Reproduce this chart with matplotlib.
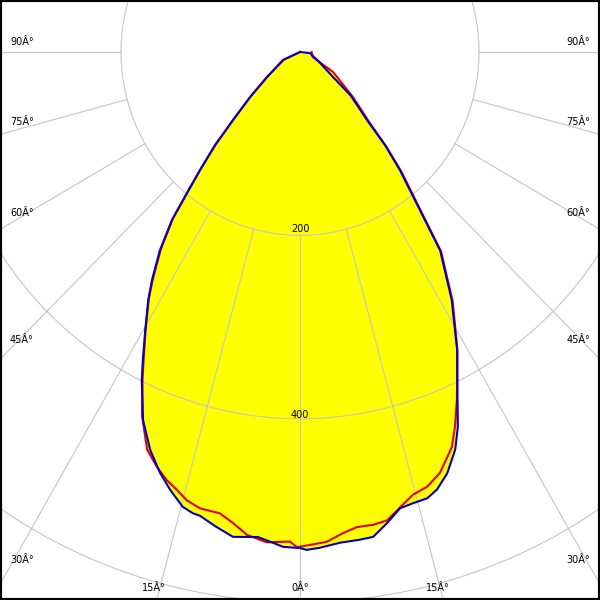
import numpy as np
import matplotlib
matplotlib.use("Agg")
import matplotlib.pyplot as plt
from matplotlib.patches import Rectangle

# ---- data (angle from nadir in degrees, left side negative; intensity) ----
blue_deg = [-90, -65.4, -53.5, -48.7, -45.3, -43.1, -41.0, -39.4, -38.0, -35.9, -33.6, -32.1,
            -29.7, -27.6, -26.3, -24.9, -23.6, -21.1, -18.8, -16.9, -14.8, -13.4, -12.45,
            -10.3, -8.06, -5.07, -3.59, -2.0, 0.0,
            0.8, 2.4, 4.8, 7.2, 8.8, 10.7, 12.66, 14.4, 16.3, 17.8, 19.7, 21.8, 23.35,
            24.9, 28.4, 32.1, 35.9, 38.5, 40.95, 43.1, 45.3, 50.0, 53.5, 65.0, 84.0, 90]
blue_cd = [0, 21, 46, 74, 105, 139, 170, 199, 232, 267, 299, 319,
           349, 379, 399, 418, 438, 465, 485, 499, 513, 517, 518,
           526, 534, 531, 535, 540, 541,
           543, 541, 537, 536, 535, 523, 510, 508, 507, 501, 488, 467, 445,
           418, 369, 319, 267, 206, 170, 139, 105, 74, 46, 22, 11, 0]

red_deg = [-90, -65.0, -53.5, -48.7, -45.3, -43.0, -41.0, -39.4, -38.0, -35.9, -33.6, -32.1,
           -29.7, -27.6, -26.3, -24.0, -21.5, -19.45, -17.7, -16.05, -14.5, -12.66, -10.1,
           -8.3, -6.4, -3.95, -1.2, -0.36,
           0.35, 3.2, 5.2, 7.0, 9.0, 10.8, 12.7, 14.65, 16.65, 18.8, 21.5, 22.95, 24.8,
           28.4, 32.1, 35.9, 38.5, 40.95, 43.0, 45.3, 50.3, 59.4, 69.0, 90]
red_cd = [0, 20, 45, 73, 104, 138, 169, 198, 231, 265, 297, 318,
          348, 377, 397, 434, 466, 480, 490, 497, 505, 510, 511,
          519, 530, 536, 534, 540,
          539, 535, 527, 522, 522, 520, 509, 499, 495, 485, 463, 444, 418,
          370, 321, 269, 209, 173, 142, 109, 77, 43, 15, 13]

ring_values = [200, 400, 600]
ring_labels = ["200", "400"]
spoke_deg = [-90, -75, -60, -45, -30, -15, 0, 15, 30, 45, 60, 75, 90]
side_label_deg = [90, 75, 60, 45, 30]
bottom_label_deg = [-15, 0, 15]

# ---- layout (pixels) ----
CX, CY = 300.0, 52.0        # centre of the diagram (pixels from top-left)
SX, SY = 0.895, 0.917       # pixels per candela unit (horizontal / vertical)
side_label_lift = [10, 12, 16, 19, 24]   # label height above spoke/edge crossing
ring_label_lift = [6, 4]

fig = plt.figure(figsize=(6, 6), dpi=100)
ax = fig.add_axes([0, 0, 1, 1])
x0, x1 = -CX / SX, (600 - CX) / SX
y0, y1 = -(600 - CY) / SY, CY / SY
ax.set_xlim(x0, x1)
ax.set_ylim(y0, y1)
ax.axis("off")


def xy(deg, val):
    t = np.radians(np.asarray(deg, dtype=float))
    v = np.asarray(val, dtype=float)
    return v * np.sin(t), -v * np.cos(t)


# yellow fill
bx, by = xy(blue_deg, blue_cd)
rx, ry = xy(red_deg, red_cd)
ax.fill(bx, by, color="#ffff00", lw=0, zorder=1)
ax.fill(rx, ry, color="#ffff00", lw=0, zorder=1)

# grid circles
grid_col = "#c4c4c4"
tt = np.linspace(0, 360, 721)
for rv in ring_values:
    gx, gy = xy(tt, np.full_like(tt, rv))
    ax.plot(gx, gy, color=grid_col, lw=0.8, zorder=2)

# spokes from the first ring outwards
for a in spoke_deg:
    sx_, sy_ = xy([a, a], [ring_values[0], 2000])
    ax.plot(sx_, sy_, color=grid_col, lw=0.8, zorder=2)

# curves
ax.plot(bx, by, color="#0000c8", lw=1.5, zorder=4, solid_joinstyle="round")
ax.plot(rx, ry, color="#e00000", lw=1.5, zorder=3, solid_joinstyle="round")

fs = 7
# side labels
for a, lift in zip(side_label_deg, side_label_lift):
    t = np.radians(a)
    if a == 90:
        yedge = 0.0
    else:
        v = (-x0) / np.sin(t)
        yedge = -v * np.cos(t)
    lab = f"{a}Â°"
    ax.annotate(lab, (x0, yedge), xytext=(10, lift), textcoords="offset pixels",
                ha="left", va="center", fontsize=fs, color="black", zorder=6)
    ax.annotate(lab, (x1, yedge), xytext=(-10, lift), textcoords="offset pixels",
                ha="right", va="center", fontsize=fs, color="black", zorder=6)

# bottom labels
for a in bottom_label_deg:
    t = np.radians(a)
    v = (-y0) / np.cos(t)
    xedge = v * np.sin(t)
    ax.annotate(f"{abs(a)}Â°", (xedge, y0), xytext=(-3 if a < 0 else (0 if a == 0 else -5), 12),
                textcoords="offset pixels", ha="center", va="center", fontsize=fs,
                color="black", zorder=6)

# ring labels
for rv, lab, lift in zip(ring_values, ring_labels, ring_label_lift):
    ax.annotate(lab, (0, -rv), xytext=(0, lift), textcoords="offset pixels",
                ha="center", va="center", fontsize=fs, color="black", zorder=6)

# black frame
fig.add_artist(Rectangle((0, 0), 1, 1, transform=fig.transFigure, fill=False,
                         ec="black", lw=3, zorder=10))

fig.savefig("out.png", dpi=100)
